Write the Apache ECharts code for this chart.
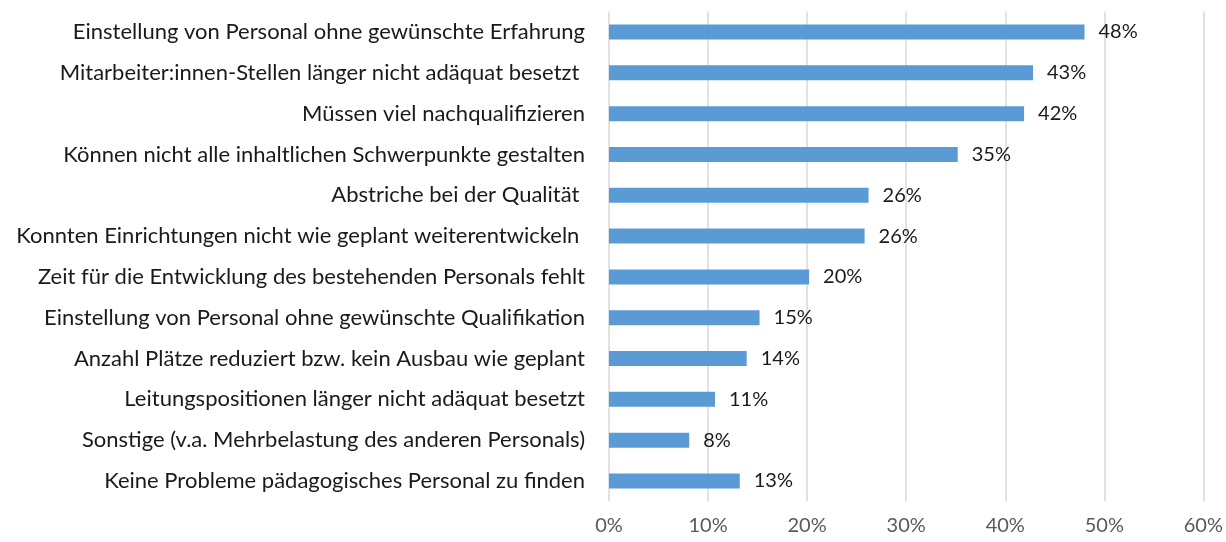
<!DOCTYPE html>
<html>
<head>
<meta charset="utf-8">
<script src="https://cdn.jsdelivr.net/npm/echarts@6/dist/echarts.min.js"></script>
<style>
  html, body { margin: 0; padding: 0; background: #fff; }
  #chart { width: 1226px; height: 542px; }
</style>
</head>
<body>
<div id="chart"></div>
<script>
// Kategorien von oben nach unten
var categories = [
    'Einstellung von Personal ohne gewünschte Erfahrung',
    'Mitarbeiter:innen-Stellen länger nicht adäquat besetzt ',
    'Müssen viel nachqualifizieren',
    'Können nicht alle inhaltlichen Schwerpunkte gestalten',
    'Abstriche bei der Qualität ',
    'Konnten Einrichtungen nicht wie geplant weiterentwickeln ',
    'Zeit für die Entwicklung des bestehenden Personals fehlt',
    'Einstellung von Personal ohne gewünschte Qualifikation',
    'Anzahl Plätze reduziert bzw. kein Ausbau wie geplant',
    'Leitungspositionen länger nicht adäquat besetzt',
    'Sonstige (v.a. Mehrbelastung des anderen Personals)',
    'Keine Probleme pädagogisches Personal zu finden'
];
var values = [48.0, 42.8, 41.9, 35.2, 26.2, 25.8, 20.2, 15.2, 13.9, 10.7, 8.1, 13.2];
var xTicks = [0, 10, 20, 30, 40, 50, 60];

var font = 'Lato';
var chart = echarts.init(document.getElementById('chart'));
var option = {
    animation: false,
    grid: {
        left: 609,
        right: 21,
        top: 11.6,
        bottom: 40.6,
        containLabel: false
    },
    xAxis: {
        type: 'value',
        min: xTicks[0],
        max: xTicks[xTicks.length - 1],
        interval: 10,
        axisLine: { show: false },
        axisTick: { show: false },
        splitLine: { lineStyle: { color: '#d9d9d9', width: 1.5 } },
        axisLabel: {
            color: '#595959',
            fontFamily: font,
            fontSize: 20,
            margin: 14,
            formatter: '{value}%'
        }
    },
    yAxis: {
        type: 'category',
        inverse: true,
        data: categories,
        axisLine: { show: false },
        axisTick: { show: false },
        axisLabel: {
            color: '#1a1a1a',
            fontFamily: font,
            fontSize: 22,
            margin: 24
        }
    },
    series: [{
        type: 'bar',
        data: values,
        barWidth: 15,
        itemStyle: { color: '#5b9bd5' },
        label: {
            show: true,
            position: 'right',
            distance: 14,
            color: '#1a1a1a',
            fontFamily: font,
            fontSize: 20,
            formatter: function (p) { return Math.round(p.value) + '%'; }
        }
    }]
};
chart.setOption(option);
</script>
</body>
</html>
